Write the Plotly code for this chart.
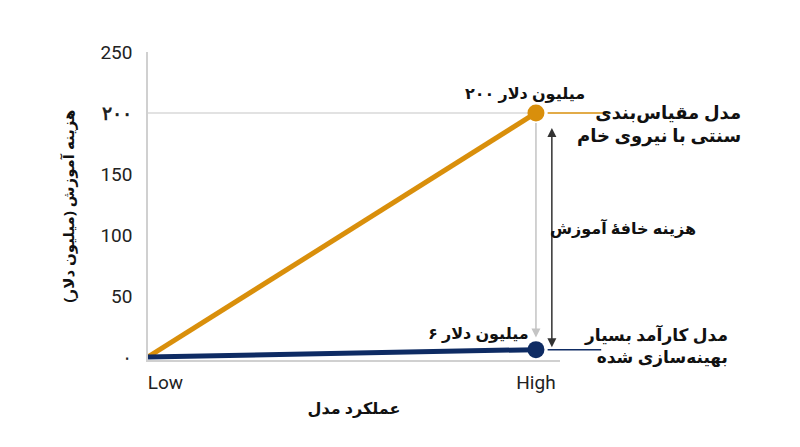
import plotly.graph_objects as go

# values
levels = [0, 1]  # Low, High
level_labels = ["Low", "High"]
brute_cost = [0, 200]
efficient_cost = [0, 6]
y_ticks = [0, 50, 100, 150, 200, 250]
y_tick_labels = ["۰", "50", "100", "150", "<b>۲۰۰</b>", "250"]

ORANGE = "#D98F0B"
NAVY = "#0E2B63"
FA_FONT = "Noto Sans, DejaVu Sans, sans-serif"

fig = go.Figure()
fig.add_trace(go.Scatter(
    x=levels, y=brute_cost, mode="lines",
    line=dict(color=ORANGE, width=5), showlegend=False, hoverinfo="skip",
))
fig.add_trace(go.Scatter(
    x=levels, y=efficient_cost, mode="lines",
    line=dict(color=NAVY, width=5), showlegend=False, hoverinfo="skip",
))
fig.add_trace(go.Scatter(
    x=levels[1:], y=brute_cost[1:], mode="markers",
    marker=dict(color=ORANGE, size=17), showlegend=False, cliponaxis=False,
))
fig.add_trace(go.Scatter(
    x=levels[1:], y=efficient_cost[1:], mode="markers",
    marker=dict(color=NAVY, size=17), showlegend=False, cliponaxis=False,
))

# reference line at 200 and leader lines to the labels
fig.add_shape(type="line", xref="paper", yref="y", x0=0, x1=0.94,
              y0=brute_cost[1], y1=brute_cost[1], line=dict(color="#d9d9d9", width=1.5), layer="below")
fig.add_shape(type="line", xref="paper", yref="y", x0=0.97, x1=1.12,
              y0=brute_cost[1], y1=brute_cost[1], line=dict(color=ORANGE, width=1.5))
fig.add_shape(type="line", xref="paper", yref="y", x0=0.97, x1=1.10,
              y0=efficient_cost[1], y1=efficient_cost[1], line=dict(color=NAVY, width=1.5))

# arrows
fig.add_annotation(x=1, y=16, ax=1, ay=193, xref="x", yref="y", axref="x", ayref="y",
                   text="", showarrow=True, arrowhead=2, arrowsize=1.2, arrowwidth=1.5,
                   arrowcolor="#c4c4c4")
fig.add_annotation(x=1.041, y=8, ax=1.041, ay=189, xref="x", yref="y", axref="x", ayref="y",
                   text="", showarrow=True, arrowhead=2, arrowsize=1.2, arrowwidth=1.5,
                   arrowside="end+start", arrowcolor="#333333")

# text labels
label_font = dict(family=FA_FONT, size=16, color="#111111")
fig.add_annotation(x=0.915, y=216, xref="paper", yref="y", showarrow=False, xanchor="center",
                   text="<b>۲۰۰ میلیون دلار</b>", font=label_font)
fig.add_annotation(x=0.803, y=20, xref="paper", yref="y", showarrow=False, xanchor="center",
                   text="<b>۶ میلیون دلار</b>", font=label_font)
fig.add_annotation(x=1.444, y=191, xref="paper", yref="y", showarrow=False,
                   xanchor="right", align="right",
                   text="<b>مدل مقیاس‌بندی<br>سنتی با نیروی خام</b>",
                   font=dict(family=FA_FONT, size=18, color="#111111"))
fig.add_annotation(x=1.413, y=9, xref="paper", yref="y", showarrow=False,
                   xanchor="right", align="right",
                   text="<b>مدل کارآمد بسیار<br>بهینه‌سازی شده</b>",
                   font=dict(family=FA_FONT, size=17, color="#111111"))
fig.add_annotation(x=1.153, y=106, xref="paper", yref="y", showarrow=False, xanchor="center",
                   text="<b>هزینه خافۀ آموزش</b>", font=label_font)

fig.update_layout(
    width=800, height=447,
    # the page adds an 8px body margin, so the plot box is shifted up/left by 8px
    margin=dict(l=140, r=248, t=44, b=95),
    paper_bgcolor="white", plot_bgcolor="white",
    font=dict(family="Roboto, sans-serif", size=19, color="#222222"),
    xaxis=dict(
        range=[0, 1.062], tickmode="array", tickvals=[0.045, 1], ticktext=level_labels,
        showgrid=False, zeroline=False, showline=True, linecolor="#d0d0d0", linewidth=1.5,
        ticks="", ticklabelstandoff=4,
        title=dict(text="<b>عملکرد مدل</b>", font=dict(family=FA_FONT, size=16, color="#111111"),
                   standoff=10),
    ),
    yaxis=dict(
        range=[-2.5, 250], tickmode="array", tickvals=y_ticks, ticktext=y_tick_labels,
        showgrid=False, zeroline=False, showline=True, linecolor="#d0d0d0", linewidth=1.5,
        ticks="", ticklabelstandoff=10,
        title=dict(text="<b>هزینه آموزش (میلیون دلار)</b>",
                   font=dict(family=FA_FONT, size=15, color="#111111"), standoff=22),
    ),
)

fig.write_html("out.html")
